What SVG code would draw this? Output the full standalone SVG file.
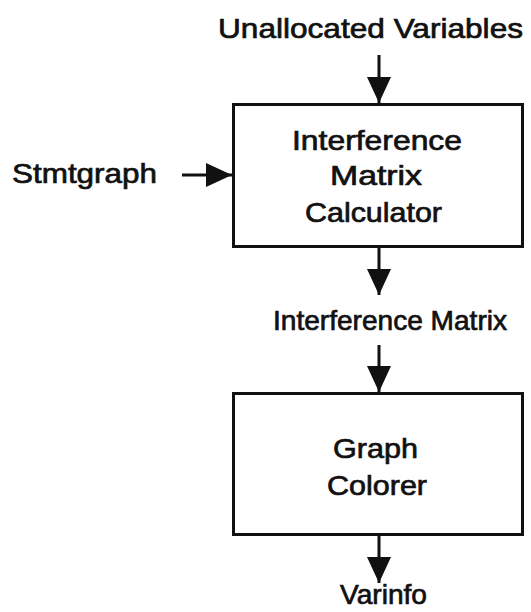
<svg xmlns="http://www.w3.org/2000/svg" width="531" height="612" viewBox="0 0 531 612">
<style>
text{font-family:"Liberation Sans",Arial,Helvetica,sans-serif;font-size:28px;fill:#111;stroke:#111;stroke-width:0.7;text-anchor:middle}
.box{fill:#fff;stroke:#111;stroke-width:3}
.conn{stroke:#111;stroke-width:3;fill:none}
</style>
<defs>
<marker id="ah" viewBox="0 0 26 24" refX="26" refY="12" markerWidth="26" markerHeight="24" markerUnits="userSpaceOnUse" orient="auto">
<path d="M0,0 L26,12 L0,24 Z" fill="#111"/>
</marker>
</defs>
<rect width="531" height="612" fill="#fff"/>
<g id="connectors">
<line class="conn" x1="379" y1="55" x2="379" y2="103" marker-end="url(#ah)"/>
<line class="conn" x1="182" y1="175" x2="232" y2="175" marker-end="url(#ah)"/>
<line class="conn" x1="379" y1="247" x2="379" y2="295" marker-end="url(#ah)"/>
<line class="conn" x1="379" y1="345" x2="379" y2="392" marker-end="url(#ah)"/>
<line class="conn" x1="379" y1="535" x2="379" y2="583" marker-end="url(#ah)"/>
</g>
<g id="unallocated">
<text x="370.5" y="38" textLength="305" lengthAdjust="spacingAndGlyphs">Unallocated Variables</text>
</g>
<g id="stmtgraph">
<text x="84.5" y="183" textLength="145" lengthAdjust="spacingAndGlyphs">Stmtgraph</text>
</g>
<g id="calculator">
<rect class="box" x="233.5" y="104.5" width="289" height="142"/>
<text x="377" y="150" textLength="170" lengthAdjust="spacingAndGlyphs">Interference</text>
<text x="376" y="185" textLength="92" lengthAdjust="spacingAndGlyphs">Matrix</text>
<text x="373.5" y="222" textLength="137" lengthAdjust="spacingAndGlyphs">Calculator</text>
</g>
<g id="matrix">
<text x="390" y="330" textLength="234" lengthAdjust="spacingAndGlyphs">Interference Matrix</text>
</g>
<g id="colorer">
<rect class="box" x="233.5" y="393.5" width="289" height="141"/>
<text x="375.5" y="458" textLength="85" lengthAdjust="spacingAndGlyphs">Graph</text>
<text x="377" y="495" textLength="100" lengthAdjust="spacingAndGlyphs">Colorer</text>
</g>
<g id="varinfo">
<text x="383.5" y="604" textLength="87" lengthAdjust="spacingAndGlyphs">Varinfo</text>
</g>
</svg>
